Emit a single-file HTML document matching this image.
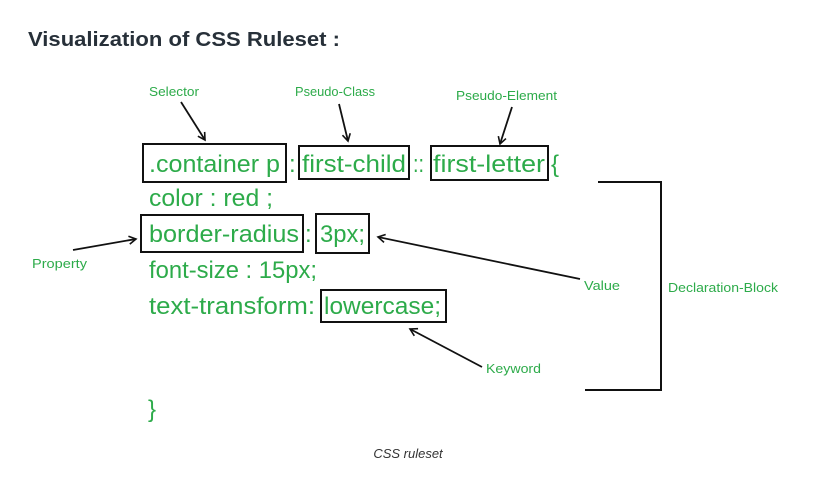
<!DOCTYPE html>
<html><head><style>
html,body{margin:0;padding:0;background:#fff;width:832px;height:478px;overflow:hidden}
svg{display:block}
</style></head><body>
<svg width="832" height="478" viewBox="0 0 832 478" xmlns="http://www.w3.org/2000/svg">
<defs>
<marker id="a" markerWidth="10" markerHeight="10" refX="8" refY="5" orient="auto" markerUnits="userSpaceOnUse">
<path d="M1,1 L8,5 L1,9" fill="none" stroke="#111" stroke-width="1.6"/>
</marker>
</defs>
<text x="28" y="46" font-family="Liberation Sans, sans-serif" font-weight="bold" font-size="20" fill="#273039" textLength="312" lengthAdjust="spacingAndGlyphs">Visualization of CSS Ruleset :</text>

<g font-family="Liberation Sans, sans-serif" font-size="13" fill="#2dab4a">
<text x="149" y="96" textLength="50" lengthAdjust="spacingAndGlyphs">Selector</text>
<text x="295" y="96" textLength="80" lengthAdjust="spacingAndGlyphs">Pseudo-Class</text>
<text x="456" y="100" textLength="101" lengthAdjust="spacingAndGlyphs">Pseudo-Element</text>
<text x="32" y="268" textLength="55" lengthAdjust="spacingAndGlyphs">Property</text>
<text x="584" y="290" textLength="36" lengthAdjust="spacingAndGlyphs">Value</text>
<text x="668" y="292" textLength="110" lengthAdjust="spacingAndGlyphs">Declaration-Block</text>
<text x="486" y="373" textLength="55" lengthAdjust="spacingAndGlyphs">Keyword</text>
</g>

<g font-family="Liberation Sans, sans-serif" font-size="24" fill="#2dab4a">
<text x="149" y="172" textLength="131" lengthAdjust="spacingAndGlyphs">.container p</text>
<text x="289" y="172">:</text>
<text x="302" y="172" textLength="104" lengthAdjust="spacingAndGlyphs">first-child</text>
<text x="413" y="172" textLength="11" lengthAdjust="spacingAndGlyphs">::</text>
<text x="433" y="172" textLength="112" lengthAdjust="spacingAndGlyphs">first-letter</text>
<text x="551" y="172">{</text>
<text x="149" y="206" textLength="124" lengthAdjust="spacingAndGlyphs">color : red ;</text>
<text x="149" y="242" textLength="150" lengthAdjust="spacingAndGlyphs">border-radius</text>
<text x="305" y="242">:</text>
<text x="320" y="242" textLength="45" lengthAdjust="spacingAndGlyphs">3px;</text>
<text x="149" y="278" textLength="168" lengthAdjust="spacingAndGlyphs">font-size : 15px;</text>
<text x="149" y="314" textLength="166" lengthAdjust="spacingAndGlyphs">text-transform:</text>
<text x="324" y="314" textLength="117" lengthAdjust="spacingAndGlyphs">lowercase;</text>
<text x="148" y="417">}</text>
</g>

<g fill="none" stroke="#111" stroke-width="2">
<rect x="143" y="144" width="143" height="38"/>
<rect x="299" y="146" width="110" height="33"/>
<rect x="431" y="146" width="117" height="34"/>
<rect x="141" y="215" width="162" height="37"/>
<rect x="316" y="214" width="53" height="39"/>
<rect x="321" y="290" width="125" height="32"/>
<polyline points="598,182 661,182 661,390 585,390"/>
</g>
<g stroke="#111" stroke-width="1.8" fill="none" marker-end="url(#a)">
<line x1="181" y1="102" x2="205" y2="140"/>
<line x1="339" y1="104" x2="348" y2="141"/>
<line x1="512" y1="107" x2="500" y2="144"/>
<line x1="73" y1="250" x2="136" y2="239"/>
<line x1="580" y1="279" x2="378" y2="237"/>
<line x1="482" y1="367" x2="410" y2="329"/>
</g>
<text x="408" y="458" text-anchor="middle" font-family="Liberation Sans, sans-serif" font-style="italic" font-size="13" fill="#333">CSS ruleset</text>
</svg>
</body></html>
